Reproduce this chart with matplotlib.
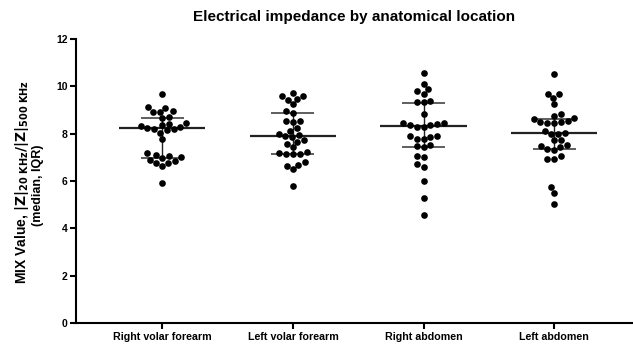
import numpy as np
import pandas as pd
import matplotlib
matplotlib.use("Agg")
import matplotlib.pyplot as plt
import seaborn as sns

# values
sites = ["Right volar forearm", "Left volar forearm", "Right abdomen", "Left abdomen"]

right_forearm = [9.67, 9.14, 9.10, 8.96, 8.91, 8.92, 8.72, 8.65, 8.45, 8.43, 8.35, 8.32,
                 8.28, 8.26, 8.22, 8.20, 8.15, 8.05, 7.78, 7.17, 7.10, 7.06, 7.03, 6.98,
                 6.91, 6.85, 6.77, 6.75, 6.64, 5.93]
left_forearm = [9.71, 9.61, 9.59, 9.48, 9.43, 9.24, 8.98, 8.89, 8.55, 8.55, 8.48, 8.24,
                8.12, 7.98, 7.95, 7.90, 7.85, 7.75, 7.65, 7.56, 7.43, 7.23, 7.20, 7.15,
                7.13, 7.13, 6.80, 6.70, 6.66, 6.53, 5.78]
right_abdomen = [10.58, 10.10, 9.89, 9.81, 9.68, 9.40, 9.36, 9.36, 8.84, 8.45, 8.45, 8.42,
                 8.38, 8.35, 8.30, 8.28, 7.92, 7.88, 7.90, 7.80, 7.76, 7.54, 7.50, 7.46,
                 7.05, 7.03, 6.72, 6.61, 6.01, 5.28, 4.57]
left_abdomen = [10.54, 9.67, 9.67, 9.52, 9.24, 8.82, 8.75, 8.65, 8.62, 8.54, 8.51, 8.48,
                8.44, 8.44, 8.12, 8.02, 8.00, 7.98, 7.74, 7.74, 7.53, 7.46, 7.50, 7.36,
                7.32, 7.06, 6.95, 6.95, 5.75, 5.51, 5.05]

medians = [8.26, 7.92, 8.31, 8.02]
q1 = [6.96, 7.16, 7.46, 7.36]
q3 = [8.65, 8.89, 9.31, 8.64]

yticks = [0, 2, 4, 6, 8, 10, 12]

groups = [right_forearm, left_forearm, right_abdomen, left_abdomen]
df = pd.DataFrame({
    "site": np.repeat(sites, [len(g) for g in groups]),
    "mix": np.concatenate(groups),
})

plt.rcParams["font.family"] = ["Liberation Sans", "DejaVu Sans"]
plt.rcParams["font.weight"] = "bold"

fig = plt.figure(figsize=(6.33, 3.49), dpi=100)
ax = fig.add_axes([0.120, 0.074, 0.878, 0.814])

sns.swarmplot(data=df, x="site", y="mix", order=sites, color="black", size=4.8, ax=ax, zorder=3)

for i in range(len(sites)):
    ax.hlines(medians[i], i - 0.33, i + 0.33, color="#222222", lw=1.6, zorder=2)
    ax.hlines([q1[i], q3[i]], i - 0.165, i + 0.165, color="#333333", lw=1.1, zorder=2)
    ax.vlines(i, q1[i], q3[i], color="#222222", lw=1.0, zorder=2)

ax.set_xlim(-0.66, 3.593)
ax.set_ylim(0, 12)
ax.set_yticks(yticks)
ax.set_yticklabels([str(t) for t in yticks], fontsize=7.5, fontweight="bold")
ax.set_xticks(range(len(sites)))
ax.set_xticklabels(sites, fontsize=7.7, fontweight="bold")
ax.set_xlabel("")
ax.set_ylabel("")

for s in ["top", "right"]:
    ax.spines[s].set_visible(False)
for s in ["left", "bottom"]:
    ax.spines[s].set_linewidth(1.5)
    ax.spines[s].set_color("black")
ax.tick_params(axis="both", width=1.5, length=4, color="black", pad=2)

ax.set_title("Electrical impedance by anatomical location", fontsize=11, fontweight="bold", pad=13)

fig.text(0.034, 0.478,
         r"MIX Value, $\mathbf{|Z|_{20\ KHz}/|Z|_{500\ KHz}}$",
         rotation=90, ha="center", va="center", fontsize=10, fontweight="bold")
fig.text(0.060, 0.47, "(median, IQR)", rotation=90, ha="center", va="center",
         fontsize=9, fontweight="bold")

fig.savefig("out.png", dpi=100)
